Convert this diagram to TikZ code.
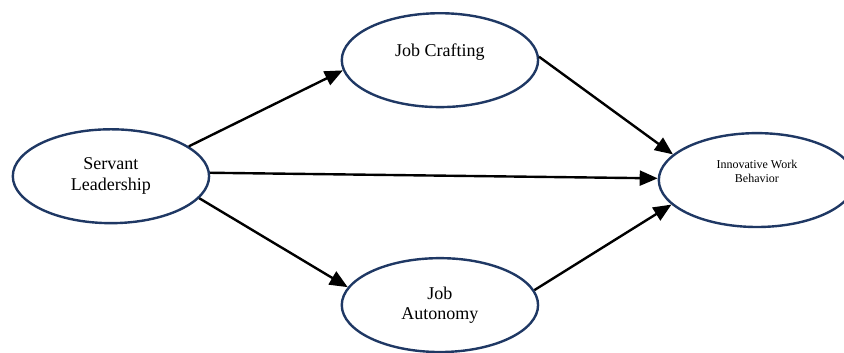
\documentclass[tikz,border=0pt]{standalone}
\usepackage{fontspec}
\setmainfont{Liberation Serif}
\usepackage{xcolor}
\usepackage{tikz}
\usetikzlibrary{shapes.geometric,arrows.meta,calc}

\definecolor{navy}{HTML}{1F3864}

\begin{document}
\begin{tikzpicture}[
    latent/.style={ellipse, draw=navy, line width=1.6pt,
      minimum width=4.6cm, minimum height=2.2cm, inner sep=0pt,
      align=center, font=\fontsize{12}{13.8}\selectfont},
    effect/.style={-{Triangle[length=12pt,width=10pt]}, line width=1.6pt}
  ]
    \useasboundingbox (0,0) rectangle (19.78,8.25);
    \clip (0,0) rectangle (19.78,8.25);

    \node[latent] (sl) at (2.60,4.12) {Servant\\Leadership};

    \node[latent] (jc) at (10.31,6.84) {Job Crafting\\ \mbox{}};
    \node[latent] (ja) at (10.31,1.10) {Job\\Autonomy};

    \node[latent, font=\fontsize{8}{9.2}\selectfont] (iwb) at (17.74,4.03)
      {Innovative Work\\Behavior\\[2pt]\mbox{}};

    \draw[effect] (sl.21) -- (jc.186);
    \draw[effect] (sl.2) -- (iwb.179);
    \draw[effect] (sl.-14) -- (ja.169);

    \draw[effect] (jc.2) -- (iwb.163);
    \draw[effect] (ja.9) -- (iwb.196);

\end{tikzpicture}
\end{document}
